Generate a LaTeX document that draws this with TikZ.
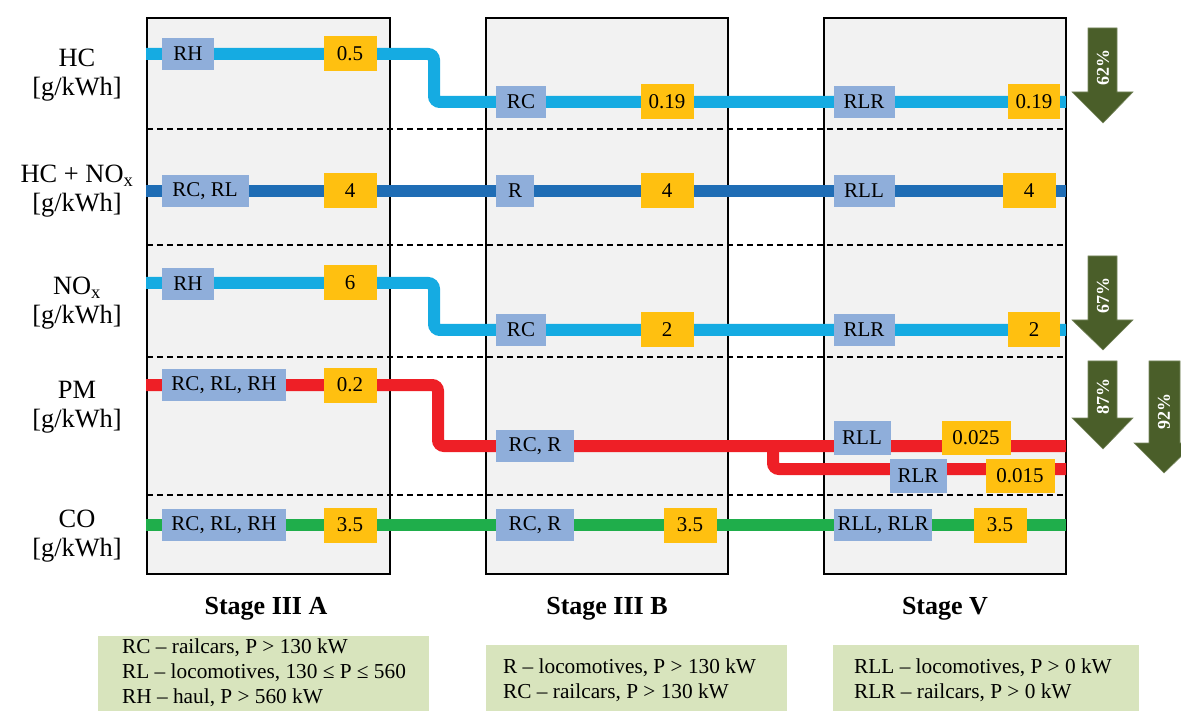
\documentclass[tikz,border=0pt]{standalone}
\usepackage{fontspec}
\setmainfont{Liberation Serif}
\definecolor{stagebg}{HTML}{F2F2F2}
\definecolor{lblue}{HTML}{15ABE2}
\definecolor{dblue}{HTML}{1F6DB5}
\definecolor{pmred}{HTML}{EE1F26}
\definecolor{cogreen}{HTML}{1FAE4B}
\definecolor{tagblue}{HTML}{8FAEDA}
\definecolor{tagorange}{HTML}{FFC010}
\definecolor{legbg}{HTML}{D8E4BD}
\definecolor{arrgreen}{HTML}{4A5E29}
\begin{document}
\begin{tikzpicture}[x=1pt,y=-1pt,
  stagebox/.style={draw=black, line width=2pt, fill=stagebg},
  sep/.style={line width=1.6pt, dash pattern=on 6pt off 4pt},
  flow/.style={line width=12pt, rounded corners=6pt},
  tag/.style={fill=tagblue, inner sep=0pt, minimum height=32pt, font=\fontsize{21}{24}\selectfont, text=black},
  val/.style={fill=tagorange, inner sep=0pt, minimum height=35pt, minimum width=53pt, font=\fontsize{21}{24}\selectfont, text=black},
  rowlabel/.style={align=center, font=\fontsize{26.4}{29}\selectfont},
  stagelabel/.style={font=\fontsize{26}{30}\selectfont\bfseries},
  legtext/.style={anchor=west, align=left, font=\fontsize{21.3}{25}\selectfont, inner sep=0pt},
  pct/.style={rotate=90, text=white, font=\fontsize{18}{20}\selectfont\bfseries},
  bigarrow/.style={fill=arrgreen, draw=arrgreen!75!white, line width=0.6pt}
]
\useasboundingbox (0,0) rectangle (1181,711);

% stage panels
\draw[stagebox] (147,18) rectangle (390,574);
\draw[stagebox] (486,18) rectangle (728,574);
\draw[stagebox] (824,18) rectangle (1066,574);

% separators
\foreach \yy in {129,245,357,495}
  \draw[sep] (147,\yy) -- (1066,\yy);

% row labels
\node[rowlabel] (lhc)  at (77,75)  {HC\\{}[g/kWh]};
\node[rowlabel] (lhcn) at (77,191) {HC + NO\textsubscript{x}\\{}[g/kWh]};
\node[rowlabel] (lnox) at (77,303) {NO\textsubscript{x}\\{}[g/kWh]};
\node[rowlabel] (lpm)  at (77,407) {PM\\{}[g/kWh]};
\node[rowlabel] (lco)  at (77,536) {CO\\{}[g/kWh]};

% flow coordinates
\coordinate (hc1) at (146,54);  \coordinate (hc2) at (434,54);
\coordinate (hc3) at (434,102); \coordinate (hc4) at (1066,102);
\coordinate (hn1) at (146,191); \coordinate (hn2) at (1066,191);
\coordinate (nx1) at (146,283); \coordinate (nx2) at (434,283);
\coordinate (nx3) at (434,330); \coordinate (nx4) at (1066,330);
\coordinate (pm1) at (146,385); \coordinate (pm2) at (438,385);
\coordinate (pm3) at (438,446); \coordinate (pm4) at (1066,446);
\coordinate (pb1) at (773,446); \coordinate (pb2) at (773,469);
\coordinate (pb3) at (1066,469);
\coordinate (co1) at (146,525); \coordinate (co2) at (1066,525);

\draw[flow, lblue] (hc1) -- (hc2) -- (hc3) -- (hc4);
\draw[flow, dblue] (hn1) -- (hn2);
\draw[flow, lblue] (nx1) -- (nx2) -- (nx3) -- (nx4);
\draw[flow, pmred] (pm1) -- (pm2) -- (pm3) -- (pm4);
\draw[flow, pmred] (pb1) -- (pb2) -- (pb3);
\draw[flow, cogreen] (co1) -- (co2);

% HC
\node[tag, minimum width=52pt] (hcA) at (188,54) {RH};
\node[val] (hcAv) at (350,54) {0.5};
\node[tag, minimum width=50pt] (hcB) at (521,102) {RC};
\node[val] (hcBv) at (667,102) {0.19};
\node[tag, minimum width=61pt] (hcV) at (864,102) {RLR};
\node[val, minimum width=52pt] (hcVv) at (1034,102) {0.19};

% HC + NOx
\node[tag, minimum width=87pt] (hnA) at (205,191) {RC, RL};
\node[val] (hnAv) at (350,191) {4};
\node[tag, minimum width=38pt] (hnB) at (515,191) {R};
\node[val] (hnBv) at (667,191) {4};
\node[tag, minimum width=61pt] (hnV) at (864,191) {RLL};
\node[val] (hnVv) at (1029,191) {4};

% NOx
\node[tag, minimum width=52pt] (nxA) at (188,284) {RH};
\node[val] (nxAv) at (350,283) {6};
\node[tag, minimum width=50pt] (nxB) at (521,330) {RC};
\node[val] (nxBv) at (667,330) {2};
\node[tag, minimum width=61pt] (nxV) at (864,330) {RLR};
\node[val, minimum width=52pt] (nxVv) at (1034,330) {2};

% PM
\node[tag, minimum width=124pt] (pmA) at (224,385) {RC, RL, RH};
\node[val] (pmAv) at (350,385) {0.2};
\node[tag, minimum width=78pt] (pmB) at (535,446) {RC, R};
\node[tag, minimum width=57pt, minimum height=34pt] (pmV1) at (862,438) {RLL};
\node[val, minimum width=69pt, minimum height=34pt] (pmV1v) at (976,438) {0.025};
\node[tag, minimum width=57pt, minimum height=34pt] (pmV2) at (918,476) {RLR};
\node[val, minimum width=69pt, minimum height=34pt] (pmV2v) at (1020,476) {0.015};

% CO
\node[tag, minimum width=124pt] (coA) at (224,525) {RC, RL, RH};
\node[val] (coAv) at (350,525) {3.5};
\node[tag, minimum width=78pt] (coB) at (535,525) {RC, R};
\node[val] (coBv) at (690,525) {3.5};
\node[tag, minimum width=98pt] (coV) at (883,525) {RLL, RLR};
\node[val] (coVv) at (1000,525) {3.5};

% stage labels
\node[stagelabel] (s1) at (266,609) {Stage III A};
\node[stagelabel] (s2) at (607,609) {Stage III B};
\node[stagelabel] (s3) at (945,609) {Stage V};

% legends
\fill[legbg] (98,636) rectangle (429,711);
\node[legtext] (leg1) at (122,673) {RC -- railcars, P > 130 kW\\RL -- locomotives, 130 ≤ P ≤ 560\\RH -- haul, P > 560 kW};
\fill[legbg] (486,645) rectangle (787,711);
\node[legtext] (leg2) at (503,680) {R -- locomotives, P > 130 kW\\RC -- railcars, P > 130 kW};
\fill[legbg] (833,645) rectangle (1139,711);
\node[legtext] (leg3) at (854,680) {RLL -- locomotives, P > 0 kW\\RLR -- railcars, P > 0 kW};

% reduction arrows
\draw[bigarrow] (1088,28) -- (1117,28) -- (1117,92) -- (1133,92) -- (1103,123) -- (1072,92) -- (1088,92) -- cycle;
\node[pct] (p1) at (1103,68) {62\%};
\draw[bigarrow] (1088,256) -- (1117,256) -- (1117,320) -- (1133,320) -- (1103,350) -- (1072,320) -- (1088,320) -- cycle;
\node[pct] (p2) at (1103,296) {67\%};
\draw[bigarrow] (1088,361) -- (1117,361) -- (1117,418) -- (1133,418) -- (1103,449) -- (1072,418) -- (1088,418) -- cycle;
\node[pct] (p3) at (1103,396) {87\%};
\draw[bigarrow] (1149,361) -- (1180,361) -- (1180,443) -- (1195,443) -- (1164,473) -- (1134,443) -- (1149,443) -- cycle;
\node[pct] (p4) at (1164,411) {92\%};
\end{tikzpicture}
\end{document}
